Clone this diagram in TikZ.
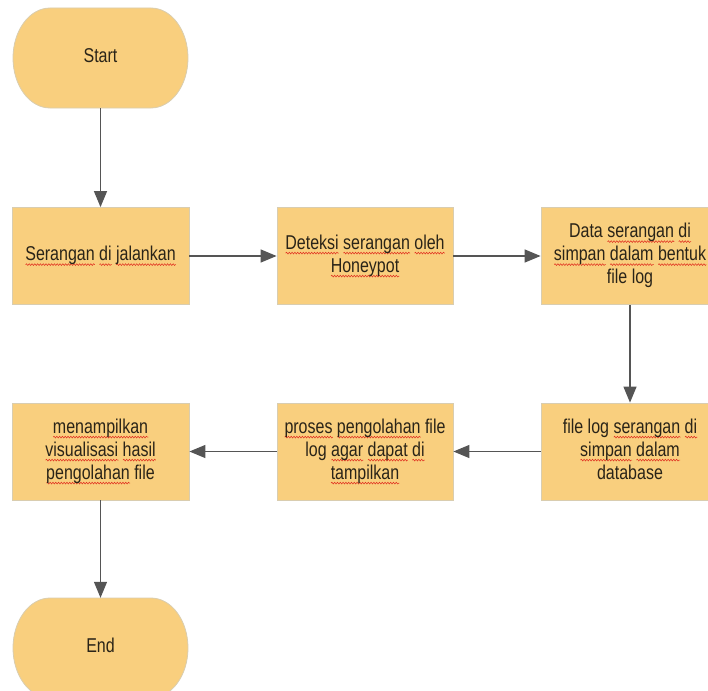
\documentclass[tikz,border=0pt]{standalone}
\usepackage{fontspec}
\setmainfont{Liberation Sans}
\usepackage{graphicx}
\usetikzlibrary{arrows.meta,decorations.pathmorphing}
\definecolor{boxfill}{HTML}{F9CF7E}
\definecolor{boxline}{HTML}{D9CDB0}
\definecolor{arr}{HTML}{555555}
\definecolor{txt}{HTML}{2A2418}
\definecolor{sq}{HTML}{E03020}
\newlength\sqlen
\newcommand\sqw[1]{\settowidth\sqlen{#1}\rlap{\tikz[baseline=0pt,x=1pt,y=1pt]\draw[sq,line width=0.6pt,decorate,decoration={snake,amplitude=0.9pt,segment length=3.5pt}] (0pt,-4pt) -- (\sqlen,-4pt);}#1}
\newcommand\nt[1]{\scalebox{0.8}[1]{\begin{tabular}{@{}c@{}}#1\end{tabular}}}
\newcommand\termshape[1]{\filldraw[termfill] ([shift={(-50.5,-50)}]#1) -- ([shift={(50.5,-50)}]#1) arc[start angle=-90,end angle=90,x radius=37,y radius=50] -- ([shift={(-50.5,50)}]#1) arc[start angle=90,end angle=270,x radius=37,y radius=50] -- cycle;}
\tikzset{
  base/.style={text=txt, font=\fontsize{20}{23}\selectfont, inner sep=0pt},
  procbox/.style={base, fill=boxfill, draw=boxline, line width=0.8pt, rectangle, minimum width=177pt, minimum height=97pt},
  termbox/.style={base, rectangle, minimum width=175pt, minimum height=100pt},
  termfill/.style={fill=boxfill, draw=boxline, line width=0.8pt},
  flow/.style={draw=arr, line width=1.3pt, -{Triangle[length=16pt,width=13pt]}}
}
\begin{document}
\begin{tikzpicture}[x=1pt,y=-1pt]
\useasboundingbox (0,0) rectangle (708,690);
\begin{scope}
\clip (0,0) rectangle (708,690);
\coordinate (cs) at (100.5,58);
\coordinate (ce) at (100.5,648);
\termshape{cs}
\termshape{ce}
\node[termbox] (start) at (cs) {\nt{Start}};
\node[procbox] (b1) at (100.5,256) {\nt{\sqw{Serangan} \sqw{di} \sqw{jalankan}}};
\node[procbox, minimum width=176pt] (b2) at (365,256) {\nt{\sqw{Deteksi} \sqw{serangan} \sqw{oleh}\\\sqw{Honeypot}}};
\node[procbox, minimum width=178pt] (b3) at (630,256) {\nt{Data \sqw{serangan} \sqw{di}\\\sqw{simpan} \sqw{dalam} \sqw{bentuk}\\file log}};
\node[procbox, minimum width=178pt] (b4) at (630,451.5) {\nt{file log \sqw{serangan} \sqw{di}\\\sqw{simpan} \sqw{dalam}\\database}};
\node[procbox, minimum width=176pt] (b5) at (365,451.5) {\nt{\sqw{proses} \sqw{pengolahan} file\\log \sqw{agar} \sqw{dapat} \sqw{di}\\\sqw{tampilkan}}};
\node[procbox] (b6) at (100.5,451.5) {\nt{\sqw{menampilkan}\\\sqw{visualisasi} \sqw{hasil}\\\sqw{pengolahan} file}};
\node[termbox] (end) at (ce) {\nt{End}};
\draw[flow] (start) -- (b1);
\draw[flow] (b1) -- (b2);
\draw[flow] (b2) -- (b3);
\draw[flow] (b3) -- (b4);
\draw[flow] (b4) -- (b5);
\draw[flow] (b5) -- (b6);
\draw[flow] (b6) -- (end);
\end{scope}
\end{tikzpicture}
\end{document}
